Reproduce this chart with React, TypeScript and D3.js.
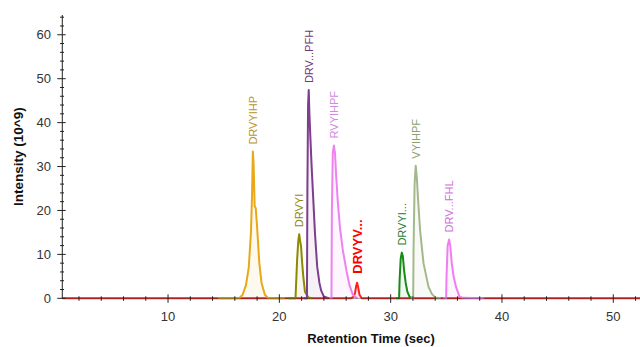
import { useEffect, useRef } from "react";
import * as d3 from "d3";

interface Trace {
  name: string;
  color: string;
  labelColor: string;
  bold: boolean;
  times: number[];
  values: number[];
}

// retention times (sec) and intensities (10^9)
const drvyihpTimes = [14.5, 16.4, 16.7, 17.0, 17.25, 17.45, 17.55, 17.62, 17.68, 17.78, 17.88, 17.98, 18.08, 18.2, 18.4, 18.7, 19.0, 20.5];
const drvyihpValues = [0, 0, 0.8, 3, 7, 15, 24, 33.4, 31, 21, 20.5, 17, 13, 8, 3.5, 0.8, 0, 0];

const drvyiTimes = [20.8, 21.45, 21.5, 21.6, 21.7, 21.78, 21.86, 21.95, 22.05, 22.15, 22.3, 22.6, 23.0];
const drvyiValues = [0, 0, 3, 9, 13, 14.6, 13.2, 11.8, 8, 5, 1.5, 0.2, 0];

const drvPfhTimes = [22.2, 22.48, 22.52, 22.58, 22.64, 22.7, 22.78, 22.9, 23.05, 23.2, 23.4, 23.6, 23.75, 24.0, 24.4];
const drvPfhValues = [0, 0, 25, 44, 47.4, 42, 37, 30, 22.4, 14.8, 7.2, 3.5, 1.8, 0.4, 0];

const rvyihpfTimes = [24.5, 24.68, 24.72, 24.8, 24.9, 25.0, 25.1, 25.25, 25.45, 25.7, 26.05, 26.3, 26.6, 27.0];
const rvyihpfValues = [0, 0, 20, 33, 34.8, 33, 28, 22, 16, 11, 6, 3, 0.8, 0];

const drvyvTimes = [0.5, 26.4, 26.65, 26.8, 26.9, 26.98, 27.08, 27.2, 27.4, 52.4];
const drvyvValues = [0, 0, 0.3, 1.2, 2.8, 3.55, 2.5, 0.8, 0, 0];

const drvyiLongTimes = [30.5, 30.76, 30.8, 30.9, 31.0, 31.1, 31.2, 31.35, 31.5, 31.7, 32.0];
const drvyiLongValues = [0, 0, 4, 9, 10.4, 9.5, 6.5, 3.5, 1.5, 0.3, 0];

const vyihpfTimes = [31.8, 32.02, 32.06, 32.15, 32.25, 32.35, 32.45, 32.64, 32.95, 33.4, 33.7, 34.0, 34.5];
const vyihpfValues = [0, 0, 12, 26, 30.2, 27.5, 23, 15.6, 8, 2.6, 1, 0.2, 0];

const drvFhlTimes = [34.7, 34.98, 35.02, 35.12, 35.25, 35.35, 35.49, 35.65, 35.87, 36.17, 36.5, 38.4];
const drvFhlValues = [0, 0, 5, 12, 13.4, 12, 8, 5, 2.6, 0.4, 0.1, 0];

const traces: Trace[] = [
  { name: "DRVYV...", color: "#ff2020", labelColor: "#ff0000", bold: true, times: drvyvTimes, values: drvyvValues },
  { name: "DRVYIHP", color: "#e8a818", labelColor: "#b8962e", bold: false, times: drvyihpTimes, values: drvyihpValues },
  { name: "DRVYI", color: "#8c8a00", labelColor: "#8c8a14", bold: false, times: drvyiTimes, values: drvyiValues },
  { name: "DRV...PFH", color: "#7e3d8e", labelColor: "#6e3a7a", bold: false, times: drvPfhTimes, values: drvPfhValues },
  { name: "RVYIHPF", color: "#ee82ee", labelColor: "#d08ade", bold: false, times: rvyihpfTimes, values: rvyihpfValues },
  { name: "DRVYI...", color: "#188a18", labelColor: "#2e7d32", bold: false, times: drvyiLongTimes, values: drvyiLongValues },
  { name: "VYIHPF", color: "#a3b98c", labelColor: "#8aa070", bold: false, times: vyihpfTimes, values: vyihpfValues },
  { name: "DRV...FHL", color: "#f07ef0", labelColor: "#d070d8", bold: false, times: drvFhlTimes, values: drvFhlValues },
];

const xTicks = [10, 20, 30, 40, 50];
const yTicks = [0, 10, 20, 30, 40, 50, 60];

export default function App() {
  const svgRef = useRef<SVGSVGElement | null>(null);

  useEffect(() => {
    const svg = d3.select(svgRef.current);
    svg.selectAll("*").remove();

    const width = 640;
    const height = 347;
    const font = "'Liberation Sans', Arial, sans-serif";

    const x = d3.scaleLinear().domain([0.5, 52.4]).range([62.3, 640]);
    const y = d3.scaleLinear().domain([0, 64.5]).range([298.3, 15]);

    // peaks: light fill + outline
    const area = d3
      .area<[number, number]>()
      .x((d) => x(d[0]))
      .y0(y(0))
      .y1((d) => y(d[1]));
    const line = d3
      .line<[number, number]>()
      .x((d) => x(d[0]))
      .y((d) => y(d[1]));

    const g = svg.append("g");
    traces.forEach((t) => {
      const pts = t.times.map((tm, i) => [tm, t.values[i]] as [number, number]);
      g.append("path")
        .attr("d", area(pts) || "")
        .attr("fill", t.color)
        .attr("fill-opacity", 0.07);
    });
    traces.forEach((t) => {
      const pts = t.times.map((tm, i) => [tm, t.values[i]] as [number, number]);
      g.append("path")
        .attr("d", line(pts) || "")
        .attr("fill", "none")
        .attr("stroke", t.color)
        .attr("stroke-width", 2)
        .attr("stroke-linejoin", "round");
    });

    // axes
    const axisColor = "#222";
    const ax = svg.append("g");
    ax.append("line")
      .attr("x1", x.range()[0]).attr("x2", width)
      .attr("y1", y(0)).attr("y2", y(0))
      .attr("stroke", axisColor).attr("stroke-width", 0.8).attr("stroke-opacity", 0.6);
    ax.append("line")
      .attr("x1", x.range()[0]).attr("x2", x.range()[0])
      .attr("y1", y.range()[0]).attr("y2", y.range()[1])
      .attr("stroke", axisColor).attr("stroke-width", 1);

    const xMinor = d3.range(2, 53, 2).filter((v) => v % 10 !== 0);
    ax.selectAll(".xminor")
      .data(xMinor)
      .join("line")
      .attr("x1", (d) => x(d)).attr("x2", (d) => x(d))
      .attr("y1", y(0) - 2).attr("y2", y(0) + 2.5)
      .attr("stroke", axisColor);
    ax.selectAll(".xmajor")
      .data(xTicks)
      .join("line")
      .attr("x1", (d) => x(d)).attr("x2", (d) => x(d))
      .attr("y1", y(0) - 4).attr("y2", y(0) + 4.5)
      .attr("stroke", axisColor);
    ax.selectAll(".xlabel")
      .data(xTicks)
      .join("text")
      .attr("x", (d) => x(d))
      .attr("y", 321)
      .attr("text-anchor", "middle")
      .style("font-family", font)
      .style("font-size", "13px")
      .style("fill", "#333")
      .text((d) => d);

    const yMinor = d3.range(2, 65, 2).filter((v) => v % 10 !== 0);
    ax.selectAll(".yminor")
      .data(yMinor)
      .join("line")
      .attr("x1", x.range()[0] - 2.3).attr("x2", x.range()[0] + 1.7)
      .attr("y1", (d) => y(d)).attr("y2", (d) => y(d))
      .attr("stroke", axisColor);
    ax.selectAll(".ymajor")
      .data(yTicks)
      .join("line")
      .attr("x1", x.range()[0] - 5).attr("x2", x.range()[0] + 3.4)
      .attr("y1", (d) => y(d)).attr("y2", (d) => y(d))
      .attr("stroke", axisColor);
    ax.selectAll(".ylabel")
      .data(yTicks)
      .join("text")
      .attr("x", 51)
      .attr("y", (d) => y(d))
      .attr("dy", "0.35em")
      .attr("text-anchor", "end")
      .style("font-family", font)
      .style("font-size", "13px")
      .style("fill", "#333")
      .text((d) => d);

    svg.append("text")
      .attr("transform", `translate(23,${(y.range()[0] + y.range()[1]) / 2}) rotate(-90)`)
      .attr("text-anchor", "middle")
      .style("font-family", font)
      .style("font-size", "13.5px")
      .style("font-weight", "bold")
      .style("fill", "#111")
      .text("Intensity (10^9)");

    svg.append("text")
      .attr("x", 371)
      .attr("y", 343)
      .attr("text-anchor", "middle")
      .style("font-family", font)
      .style("font-size", "13px")
      .style("font-weight", "bold")
      .style("fill", "#111")
      .text("Retention Time (sec)");

    // peak labels, rotated above each apex
    traces.forEach((t) => {
      const i = d3.maxIndex(t.values);
      const px = x(t.times[i]);
      const py = y(t.values[i]) - (t.bold ? 9 : 7);
      svg.append("text")
        .attr("transform", `translate(${px},${py}) rotate(-90)`)
        .attr("dy", "0.35em")
        .attr("text-anchor", "start")
        .style("font-family", font)
        .style("font-size", t.bold ? "13px" : "11px")
        .style("font-weight", t.bold ? "bold" : "normal")
        .style("fill", t.labelColor)
        .text(t.name);
    });
  }, []);

  return (
    <div style={{ position: "absolute", left: 0, top: 0, width: 640, height: 347, background: "#fff" }}>
      <svg ref={svgRef} width={640} height={347}></svg>
    </div>
  );
}
